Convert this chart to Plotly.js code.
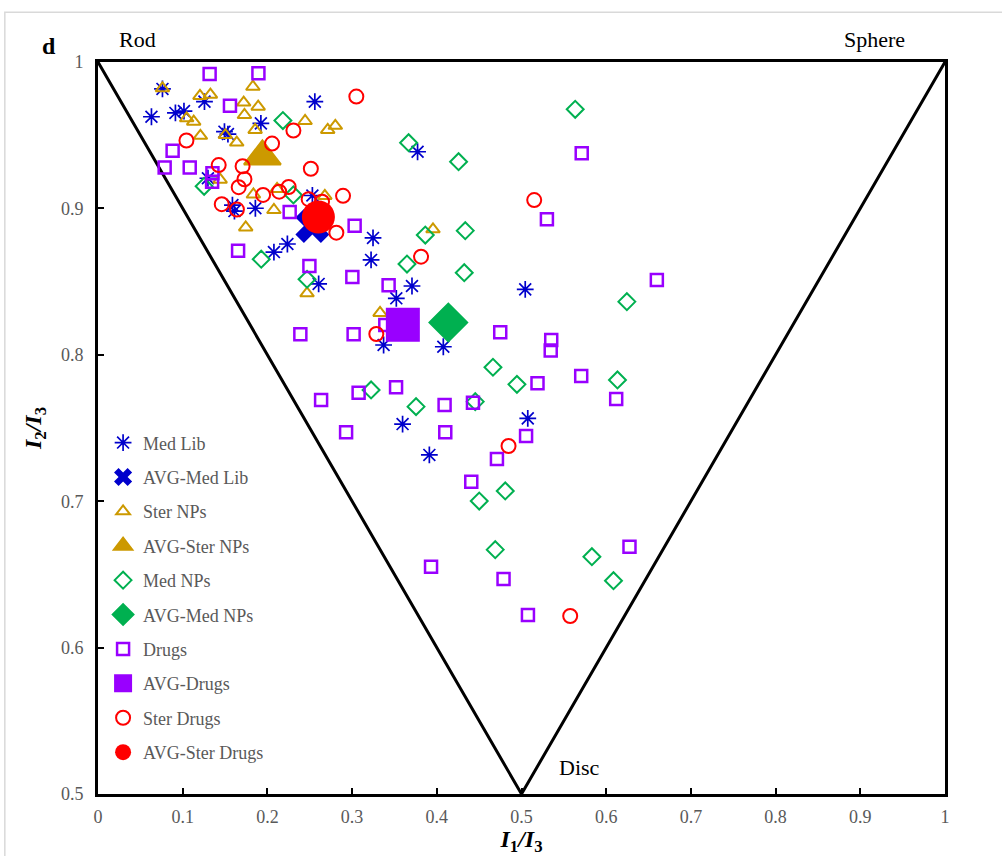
<!DOCTYPE html>
<html>
<head>
<meta charset="utf-8">
<script src="https://cdn.plot.ly/plotly-3.0.1.min.js"></script>
<style>html,body{margin:0;padding:0;background:#fff;}#chart{width:1002px;height:856px;}</style>
</head>
<body>
<div id="chart"></div>
<script>
// Boundary of the shape triangle (Rod - Disc - Sphere)
const boundaryX = [0, 0.5, 1];
const boundaryY = [1, 0.5, 1];

// Med Lib
const medLibX = [0.0761,0.0631,0.0914,0.1015,0.1257,0.1493,0.1534,0.1923,0.2560,0.1298,0.1587,0.1611,0.1858,0.2531,0.2236,0.2077,0.3247,0.3224,0.3773,0.3707,0.3522,0.2605,0.3372,0.4077,0.5044,0.3596,0.3912,0.5074];
const medLibY = [0.9816,0.9626,0.9652,0.9665,0.9729,0.9524,0.9508,0.9581,0.9729,0.9206,0.9023,0.8982,0.9001,0.9088,0.8757,0.8702,0.8798,0.8648,0.9387,0.8470,0.8386,0.8484,0.8067,0.8055,0.8447,0.7527,0.7316,0.7566];
const avgMedLibX = [0.2531];
const avgMedLibY = [0.8880];

// Ster NPs
const sterNPsX = [0.0761,0.1204,0.1327,0.1829,0.1720,0.1891,0.1729,0.1047,0.1130,0.1209,0.1504,0.1638,0.1855,0.2445,0.2712,0.2802,0.1442,0.1835,0.2077,0.1744,0.2678,0.2114,0.3955,0.2468,0.3330];
const sterNPsY = [0.9820,0.9768,0.9777,0.9831,0.9723,0.9695,0.9638,0.9615,0.9592,0.9496,0.9501,0.9450,0.9536,0.9597,0.9536,0.9564,0.9196,0.9095,0.8989,0.8870,0.9085,0.9133,0.8857,0.8420,0.8286];
const avgSterNPsX = [0.1941];
const avgSterNPsY = [0.9355];

// Med NPs
const medNPsX = [0.2183,0.1253,0.2307,0.1927,0.2468,0.3864,0.3648,0.5634,0.3667,0.4257,0.4336,0.4324,0.6244,0.3224,0.3755,0.4663,0.4946,0.4454,0.6133,0.4501,0.4808,0.4690,0.5831,0.6086];
const medNPsY = [0.9600,0.9151,0.9092,0.8653,0.8516,0.8818,0.8620,0.9677,0.9449,0.9319,0.8848,0.8561,0.8363,0.7760,0.7646,0.7915,0.7798,0.7680,0.7828,0.7001,0.7070,0.6669,0.6621,0.6457];
const avgMedNPsX = [0.4136];
const avgMedNPsY = [0.8221];

// Drugs
const drugsX = [0.1318,0.1894,0.1558,0.0881,0.0787,0.1083,0.1351,0.1347,0.2263,0.3030,0.1654,0.2496,0.3003,0.3431,0.2389,0.3018,0.3392,0.4749,0.5351,0.5345,0.5711,0.5300,0.6598,0.2634,0.3077,0.3519,0.4092,0.4427,0.5189,0.2929,0.4100,0.5054,0.4710,0.4407,0.5705,0.6118,0.3932,0.4788,0.5076,0.6275];
const drugsY = [0.9918,0.9923,0.9702,0.9394,0.9279,0.9279,0.9240,0.9182,0.8975,0.8882,0.8710,0.8607,0.8531,0.8475,0.8141,0.8141,0.8204,0.8154,0.8101,0.8029,0.9376,0.8926,0.8511,0.7691,0.7741,0.7778,0.7657,0.7673,0.7805,0.7471,0.7471,0.7445,0.7288,0.7133,0.7855,0.7698,0.6553,0.6469,0.6223,0.6689];
const avgDrugsX = [0.3599];
const avgDrugsY = [0.8206];

// Ster Drugs
const sterDrugsX = [0.1044,0.2055,0.2307,0.3050,0.1425,0.1707,0.2513,0.1729,0.1661,0.1949,0.2139,0.2251,0.1461,0.1640,0.2487,0.2645,0.2893,0.2814,0.3814,0.3286,0.5150,0.4847,0.5575];
const sterDrugsY = [0.9464,0.9443,0.9532,0.9764,0.9296,0.9288,0.9271,0.9199,0.9145,0.9092,0.9114,0.9146,0.9029,0.8992,0.9063,0.9046,0.9086,0.8834,0.8670,0.8142,0.9057,0.7377,0.6216];
const avgSterDrugsX = [0.2602];
const avgSterDrugsY = [0.8941];

const xTickVals = [0,0.1,0.2,0.3,0.4,0.5,0.6,0.7,0.8,0.9,1];
const xTickText = ['0','0.1','0.2','0.3','0.4','0.5','0.6','0.7','0.8','0.9','1'];
const yTickVals = [0.5,0.6,0.7,0.8,0.9,1];
const yTickText = ['0.5','0.6','0.7','0.8','0.9','1'];

const BLUE = '#0000CC', GOLD = '#CC9900', GREEN = '#00B050', PURPLE = '#9900FF', RED = '#FF0000';
const FONT = 'Liberation Serif, Times New Roman, serif';

function sc(name, x, y, marker, group) {
  return {type:'scatter', mode:'markers', name:name, x:x, y:y, marker:marker,
          legendgroup:group, cliponaxis:false};
}

const traces = [
  {type:'scatter', mode:'lines', x:boundaryX, y:boundaryY, showlegend:false,
   line:{color:'#000', width:3}, hoverinfo:'skip'},
  sc('Med Lib', medLibX, medLibY, {symbol:'asterisk-open', size:14, color:BLUE, line:{color:BLUE, width:1.7}}, 'g1'),
  sc('AVG-Med Lib', avgMedLibX, avgMedLibY, {symbol:'x', size:30, color:BLUE, line:{width:0}}, 'g2'),
  sc('Ster NPs', sterNPsX, sterNPsY, {symbol:'triangle-up-open', size:12, color:GOLD, line:{color:GOLD, width:2}}, 'g3'),
  sc('AVG-Ster NPs', avgSterNPsX, avgSterNPsY, {symbol:'triangle-up', size:32, color:GOLD, line:{color:GOLD, width:2}}, 'g4'),
  sc('Med NPs', medNPsX, medNPsY, {symbol:'diamond-open', size:13, color:GREEN, line:{color:GREEN, width:2}}, 'g5'),
  sc('AVG-Med NPs', avgMedNPsX, avgMedNPsY, {symbol:'diamond', size:29, color:GREEN, line:{color:GREEN, width:2}}, 'g6'),
  sc('Drugs', drugsX, drugsY, {symbol:'square-open', size:12, color:PURPLE, line:{color:PURPLE, width:2.5}}, 'g7'),
  sc('AVG-Drugs', avgDrugsX, avgDrugsY, {symbol:'square', size:32, color:PURPLE, line:{color:PURPLE, width:2}}, 'g8'),
  sc('Ster Drugs', sterDrugsX, sterDrugsY, {symbol:'circle-open', size:14, color:RED, line:{color:RED, width:2}}, 'g9'),
  sc('AVG-Ster Drugs', avgSterDrugsX, avgSterDrugsY, {symbol:'circle', size:33, color:RED, line:{color:RED, width:0}}, 'g10')
];

const layout = {
  width:1002, height:856,
  margin:{l:98, r:57, t:62, b:62},
  paper_bgcolor:'#fff', plot_bgcolor:'#fff',
  font:{family:FONT, size:18, color:'#595959'},
  showlegend:true,
  legend:{x:0.006, y:0.505, xanchor:'left', yanchor:'top', bgcolor:'rgba(0,0,0,0)',
          font:{family:FONT, size:18, color:'#595959'}, tracegroupgap:8},
  xaxis:{range:[0,1], tickvals:xTickVals, ticktext:xTickText, ticks:'inside', ticklen:6, tickwidth:2, tickcolor:'#000',
         showline:true, linecolor:'#000', linewidth:3, mirror:true, showgrid:false, zeroline:false,
         ticklabelstandoff:4,
         tickfont:{family:FONT, size:18, color:'#595959'},
         title:{text:'<b><i>I</i><sub>1</sub><i>/I</i><sub>3</sub></b>', font:{family:FONT, size:24, color:'#000'}, standoff:6}},
  yaxis:{range:[0.5,1], tickvals:yTickVals, ticktext:yTickText, ticks:'inside', ticklen:6, tickwidth:2, tickcolor:'#000',
         showline:true, linecolor:'#000', linewidth:3, mirror:true, showgrid:false, zeroline:false,
         ticklabelstandoff:8,
         tickfont:{family:FONT, size:18, color:'#595959'},
         title:{text:'<b><i>I</i><sub>2</sub><i>/I</i><sub>3</sub></b>', font:{family:FONT, size:24, color:'#000'}, standoff:13}},
  shapes:[
    {type:'rect', xref:'paper', yref:'paper', x0:-0.11, x1:1.2, y0:-0.2, y1:1.068, line:{color:'#d9d9d9', width:1.5}, layer:'below'}
  ],
  annotations:[
    {text:'<b>d</b>', xref:'paper', yref:'paper', x:-0.068, y:1.042, showarrow:false, font:{family:FONT, size:24, color:'#000'}},
    {text:'Rod', xref:'paper', yref:'paper', x:0.023, y:1.050, showarrow:false, font:{family:FONT, size:22, color:'#000'}},
    {text:'Sphere', xref:'paper', yref:'paper', x:0.955, y:1.050, showarrow:false, font:{family:FONT, size:22, color:'#000'}},
    {text:'Disc', xref:'paper', yref:'paper', x:0.569, y:0.017, showarrow:false, font:{family:FONT, size:22, color:'#000'}}
  ]
};

Plotly.newPlot('chart', traces, layout, {displayModeBar:false, staticPlot:true});
</script>
</body>
</html>
